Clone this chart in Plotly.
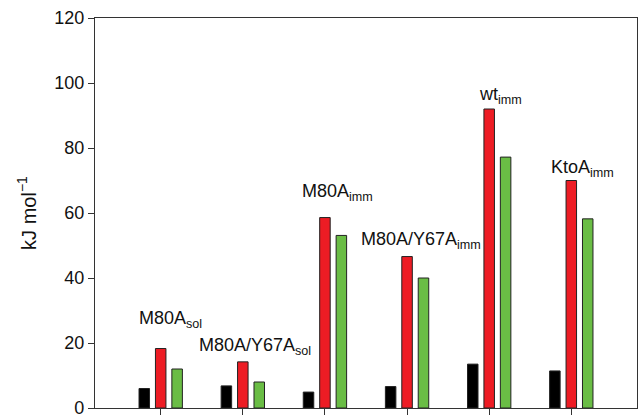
import plotly.graph_objects as go

groups = [1, 2, 3, 4, 5, 6]
black_vals = [6.0, 6.8, 4.9, 6.6, 13.5, 11.4]
red_vals = [18.3, 14.2, 58.6, 46.6, 92.0, 70.0]
green_vals = [12.0, 8.0, 53.1, 40.0, 77.2, 58.2]
labels = ["M80A<sub>sol</sub>", "M80A/Y67A<sub>sol</sub>", "M80A<sub>imm</sub>",
          "M80A/Y67A<sub>imm</sub>", "wt<sub>imm</sub>", "KtoA<sub>imm</sub>"]
label_x = [0.708, 1.437, 2.693, 3.41, 4.847, 5.73]
label_y = [31.4, 23.2, 70.5, 55.8, 100.4, 77.8]

FONT = "Liberation Sans, Arial, sans-serif"
fig = go.Figure()
for vals, col in [(black_vals, "#000000"), (red_vals, "#ED1C24"), (green_vals, "#6ABD45")]:
    fig.add_trace(go.Bar(x=groups, y=vals, marker=dict(color=col, line=dict(color="#222222", width=1)),
                         showlegend=False, hoverinfo="skip"))

for t, x, y in zip(labels, label_x, label_y):
    fig.add_annotation(x=x, y=y, text=t, showarrow=False, xanchor="left", yanchor="top",
                       font=dict(family=FONT, size=18, color="#111111"))

fig.update_layout(
    width=638, height=415,
    margin=dict(l=95, r=1, t=18, b=7),
    paper_bgcolor="white", plot_bgcolor="white",
    barmode="group", bargap=0.4, bargroupgap=0.36,
    font=dict(family=FONT, size=18, color="#111111"),
    xaxis=dict(range=[0.2, 6.8], tickvals=groups, ticktext=[""] * 6, ticks="outside", ticklen=6,
               tickcolor="#333333", showline=True, linecolor="#333333", linewidth=1.2, mirror=True,
               showgrid=False, zeroline=False, automargin=False),
    yaxis=dict(range=[0, 120], dtick=20, ticks="outside", ticklen=6, tickcolor="#333333",
               showline=True, linecolor="#333333", linewidth=1.2, mirror=True, showgrid=False,
               zeroline=False, tickfont=dict(size=18), ticklabeloverflow="allow", automargin=False,
               title=dict(text="kJ mol<sup>−1</sup>", font=dict(size=20), standoff=12)),
)
fig.write_html("out.html", config={"displayModeBar": False},
               post_script="document.body.style.margin='0';")
